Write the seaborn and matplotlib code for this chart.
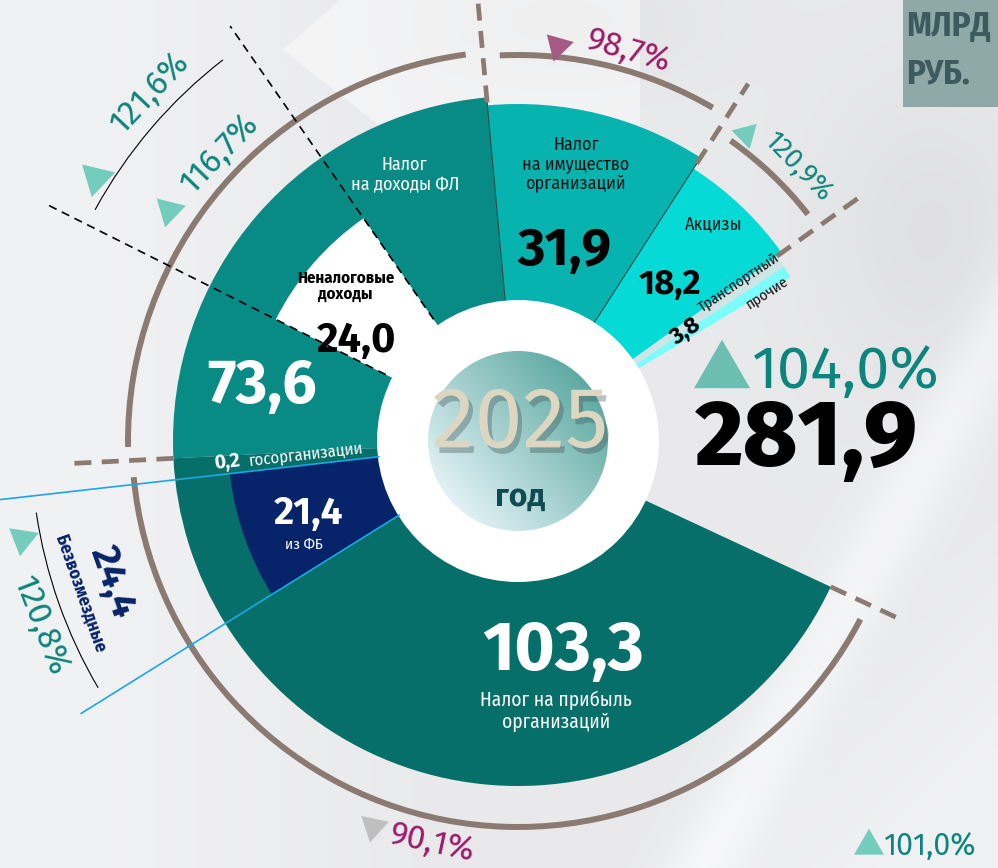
import numpy as np
import matplotlib
matplotlib.use("Agg")
import matplotlib.pyplot as plt
import matplotlib.colors as mcolors
import matplotlib.patheffects as pe
from matplotlib.patches import Arc, Circle, Rectangle, Polygon
import seaborn as sns

# ---- data: доходы бюджета 2025, млрд руб. ----
ring_labels = ["прочие", "Транспортный", "Акцизы", "Налог на имущество организаций",
               "Налог на доходы ФЛ", "Безвозмездные", "Налог на прибыль организаций"]
ring_values = [1.9, 1.9, 18.2, 31.9, 73.6, 24.4, 103.3]
ring_colors = ["#7dfcfc", "#cfe4e4", "#05dad6", "#07b3ae", "#088a85", "#066f69", "#066f69"]
ring_radius = [318, 318, 324, 337, 345, 345, 345]

transport_total = 3.8
nontax_value = 24.0      # Неналоговые доходы
fb_value = 21.4          # из ФБ
gov_value = 0.2          # госорганизации
total_value = 281.9

# темпы роста, %
growth_total = 104.0
growth_profit = 90.1
growth_ndfl = 116.7
growth_nontax = 121.6
growth_property = 98.7
growth_excise = 120.9
growth_free = 120.8
growth_other = 101.0

W, H = 998, 868
CX, CY = 518, H - 441
HOLE = 140
GAP_DEG = 56

TEAL_TXT = "#0b857d"
MAGENTA = "#9c1b66"
UP_TRI = "#74ccbd"
BROWN = "#8b7a72"
NAVY = "#07246a"


def fmt(v, pct=False):
    s = f"{v:.1f}".replace(".", ",")
    return s + "%" if pct else s


sns.set_theme(style="white")
COND = ["Fira Sans Condensed", "PT Sans Narrow", "Roboto Condensed", "Open Sans", "DejaVu Sans"]
SANS = ["Fira Sans", "Open Sans", "DejaVu Sans"]
LIGHT = ["Fira Sans Light", "Fira Sans", "Open Sans", "DejaVu Sans"]
plt.rcParams["font.family"] = SANS

fig = plt.figure(figsize=(W / 100, H / 100), dpi=100)
fig.patch.set_facecolor("#ebecee")
ax = fig.add_axes([0, 0, 1, 1])


def pol(theta, r):
    t = np.radians(theta)
    return CX + r * np.cos(t), CY + r * np.sin(t)


def Y(py):
    return H - py


# ---- soft background ----
yy, xx = np.mgrid[0:H:2, 0:W:2].astype(float)


def band(x0, y0, x1, y1, width):
    dx, dy = x1 - x0, y1 - y0
    d = np.abs(dy * (xx - x0) - dx * (yy - y0)) / np.hypot(dx, dy)
    return np.exp(-(d / width) ** 2)


lum = np.full(xx.shape, 0.918)
lum += 0.03 * np.clip((430 - xx) / 330, 0, 1)
lum -= 0.035 * np.exp(-(((xx - 930) / 110) ** 2 + ((yy - 230) / 150) ** 2))
lum -= 0.025 * np.exp(-(((xx - 560) / 140) ** 2 + ((yy - 20) / 60) ** 2))
lum += 0.045 * band(998, 330, 700, 868, 35)
lum += 0.03 * np.clip((xx + yy - 1500) / 250, 0, 1)
lum = np.clip(lum, 0, 1)
bg = np.dstack([lum - 0.004, lum - 0.002, lum + 0.006]).clip(0, 1)
ax.imshow(bg, extent=[0, W, 0, H], origin="upper", zorder=0, interpolation="bilinear")
ax.add_patch(Polygon([(283, Y(50)), (340, Y(0)), (640, Y(0)), (640, Y(330))], closed=True,
                     fc="white", ec="none", alpha=0.45, zorder=0.5))

# ---- outer ring ----
gap = sum(ring_values) * GAP_DEG / (360 - GAP_DEG)
wedges, _ = ax.pie(ring_values + [gap], colors=ring_colors + ["none"], startangle=31,
                   counterclock=True, radius=345, center=(CX, CY),
                   wedgeprops=dict(width=345 - HOLE, linewidth=0))
for w, r in zip(wedges, ring_radius):
    w.set_radius(r)
    w.set_width(r - HOLE)
    w.set_zorder(1)
wedges[-1].set_visible(False)

# ---- inner overlays: Неналоговые доходы and из ФБ ----
ndfl = ring_values[4]
lead = sum(ring_values[:4]) + (ndfl - nontax_value) / 2
mid = (ndfl - nontax_value) / 2 + ring_values[5] - fb_value
tail = ring_values[6] + gap
inner, _ = ax.pie([lead, nontax_value, mid, fb_value, tail],
                  colors=["none", "white", "none", NAVY, "none"], startangle=31,
                  counterclock=True, radius=290, center=(CX, CY),
                  wedgeprops=dict(width=290 - HOLE, linewidth=0))
inner[1].set_radius(271)
inner[1].set_width(271 - HOLE)
for k in (0, 2, 4):
    inner[k].set_visible(False)
for w in inner:
    w.set_zorder(2)

ax.axis("off")

# thin separators inside the ring
for k in (2, 3):
    a = wedges[k].theta2
    ax.plot(*zip(pol(a, HOLE), pol(a, ring_radius[k + 1])), color="#2c4a4a", lw=0.8, zorder=3)

# ---- centre ----
ax.add_patch(Circle((CX, CY), HOLE + 1, fc="white", ec="none", zorder=4))
n = 256
gx, gy = np.meshgrid(np.linspace(-1, 1, n), np.linspace(-1, 1, n))
t = np.clip(0.5 + 0.5 * (0.75 * gx + 0.65 * gy), 0, 1)[..., None]
c0 = np.array(mcolors.to_rgb("#e2f2f6"))
c1 = np.array(mcolors.to_rgb("#5ea9a2"))
im = ax.imshow(c0 + (c1 - c0) * t, extent=[CX - 90, CX + 90, CY - 90, CY + 90],
               origin="lower", zorder=5)
im.set_clip_path(Circle((CX, CY), 90, transform=ax.transData))
ax.set_xlim(0, W)
ax.set_ylim(0, H)
ax.set_aspect("equal")

ax.text(CX + 2, Y(424), "2025", ha="center", va="center", fontsize=62, color="#ddd6c1",
        family=LIGHT, zorder=7,
        path_effects=[pe.withSimplePatchShadow(offset=(3, -4), shadow_rgbFace="#3c4f50", alpha=0.35)])
ax.text(CX + 2, Y(497), "год", ha="center", va="center", fontsize=23, color="#0e4c52",
        weight="bold", family=SANS, zorder=7)

# ---- brown dashed separators ----
sep = [(wedges[1].theta2, 318, 418), (wedges[2].theta2, 330, 425), (wedges[3].theta2, 340, 440),
       (wedges[4].theta2, 345, 445), (wedges[6].theta2, 345, 420)]
for a, r0, r1 in sep:
    ax.plot(*zip(pol(a, r0), pol(a, r1)), color=BROWN, lw=3.4, ls=(0, (3.6, 2.2)),
            solid_capstyle="butt", zorder=3)

# ---- brown group arcs ----
arcs = [(368, wedges[2].theta1 + 2.5, wedges[2].theta2 - 2.5),
        (386, wedges[3].theta1 + 2.5, wedges[3].theta2 - 2.5),
        (390, wedges[4].theta1 + 2.5, wedges[4].theta2 - 2.0),
        (386, wedges[5].theta1 + 2.5, wedges[6].theta2 - 2.5)]
for r, a1, a2 in arcs:
    ax.add_patch(Arc((CX, CY), 2 * r, 2 * r, theta1=a1, theta2=a2, color=BROWN, lw=4.3, zorder=3))

# ---- black dashed lines around Неналоговые доходы ----
wn = inner[1]
for a, r1 in ((wn.theta1, 505), (wn.theta2, 525)):
    ax.plot(*zip(pol(a, HOLE + 8), pol(a, r1)), color="black", lw=1.2, ls=(0, (5, 3.5)), zorder=6)
ax.add_patch(Arc((CX, CY), 964, 964, theta1=wn.theta1 + 3, theta2=wn.theta2 - 2,
                 color="black", lw=0.8, zorder=3))

# ---- light blue lines around из ФБ ----
wf = inner[3]
for a, r1 in ((wf.theta1, 540), (wf.theta2, 515)):
    ax.plot(*zip(pol(a, HOLE), pol(a, r1)), color="#1aa7e6", lw=1.2, zorder=6)
ax.add_patch(Arc((CX, CY), 974, 974, theta1=wf.theta1 + 2, theta2=wf.theta2 - 1.5,
                 color="black", lw=0.8, zorder=3))


def lab(theta, r, s, **kw):
    x, y = pol(theta, r)
    kw.setdefault("ha", "center")
    kw.setdefault("va", "center")
    kw.setdefault("zorder", 8)
    return ax.text(x, y, s, **kw)


def tri(x, y, size, direction, color):
    R = size / np.sqrt(3)
    pts = [(x + R * np.cos(np.radians(direction + k)), y + R * np.sin(np.radians(direction + k)))
           for k in (0, 120, 240)]
    ax.add_patch(Polygon(pts, closed=True, fc=color, ec="none", zorder=8))


def growth(th_text, th_tri, r_text, r_tri, value, up, bottom=False, fs=24, tri_size=30,
           tcol=TEAL_TXT, tricol=UP_TRI):
    rot = th_text + 90 - 360 if bottom else th_text - 90
    lab(th_text, r_text, fmt(value, True), rotation=rot, fontsize=fs, color=tcol,
        family=SANS, rotation_mode="anchor")
    x, y = pol(th_tri, r_tri)
    tri(x, y, tri_size, rot + (90 if up else -90), tricol)


# ---- segment labels ----
w_exc, w_prop, w_ndfl, w_free, w_prof = wedges[2], wedges[3], wedges[4], wedges[5], wedges[6]
m_prop = (w_prop.theta1 + w_prop.theta2) / 2
m_exc = (w_exc.theta1 + w_exc.theta2) / 2
m_non = (wn.theta1 + wn.theta2) / 2
m_fb = (wf.theta1 + wf.theta2) / 2
m_ndfl = (w_ndfl.theta1 + w_ndfl.theta2) / 2
m_bottom = (w_free.theta1 + w_prof.theta2) / 2

lab(113, 290, "Налог\nна доходы ФЛ", color="white", fontsize=13, family=COND, linespacing=1.15)
lab(m_prop + 2, 283, "Налог\nна имущество\nорганизаций", color="#111111", fontsize=13,
    family=COND, linespacing=1.1)
lab(m_prop, 196, fmt(ring_values[3]), color="black", fontsize=38, weight="bold", family=SANS)
lab(m_exc + 1.5, 292, "Акцизы", color="#111111", fontsize=13, family=COND)
lab(m_exc - 0.5, 218, fmt(ring_values[2]), color="black", fontsize=25, weight="bold", family=SANS)

lab(33.3, 200, fmt(transport_total), rotation=34, color="black", fontsize=17, weight="bold",
    family=SANS)
lab(35.6, 272, "Транспортный", rotation=34, color="#111111", fontsize=11, family=COND)
lab(31.0, 290, "прочие", rotation=33, color="#111111", fontsize=11, family=COND)

lab(m_non - 1, 232, "Неналоговые\nдоходы", color="black", fontsize=12, weight="bold",
    family=COND, linespacing=1.0)
lab(m_non + 9, 190, fmt(nontax_value), color="black", fontsize=30, weight="bold", family=SANS)
lab(168, 262, fmt(ndfl), color="white", fontsize=44, weight="bold", family=SANS)

lab(m_fb, 222, fmt(fb_value), color="white", fontsize=28, weight="bold", family=SANS)
lab(206, 238, "из ФБ", color="white", fontsize=11, family=COND)

# 0,2 госорганизации along the blue line
rot_g = wf.theta1 - 180
x0, y0 = pol(wf.theta1, 305)
d = np.array([np.cos(np.radians(rot_g)), np.sin(np.radians(rot_g))])
ax.text(x0, y0 + 2, fmt(gov_value), rotation=rot_g, rotation_mode="anchor", ha="left",
        va="bottom", color="white", fontsize=14, weight="bold", family=SANS, zorder=8)
ax.text(x0 + 35 * d[0], y0 + 2 + 35 * d[1], "госорганизации", rotation=rot_g,
        rotation_mode="anchor", ha="left", va="bottom", color="white", fontsize=12,
        family=COND, zorder=8)

lab(282, 215, fmt(ring_values[6]), color="white", fontsize=50, weight="bold", family=SANS)
lab(278, 273, "Налог на прибыль\nорганизаций", color="white", fontsize=14, family=COND,
    linespacing=1.15)

# Безвозмездные
rot_b = m_fb + 90 - 360
lab(m_fb, 430, fmt(ring_values[5]), rotation=rot_b, color=NAVY, fontsize=28, weight="bold",
    family=SANS)
lab(m_fb, 463, "Безвозмездные", rotation=rot_b, color=NAVY, fontsize=13, weight="bold",
    family=COND)

# ---- growth notes ----
growth(m_exc - 2, m_exc + 7, 392, 382, growth_excise, True, fs=20, tri_size=26)
growth(m_prop - 2, m_prop + 8, 405, 397, growth_property, False, fs=24, tri_size=28,
       tcol=MAGENTA, tricol="#a45a82")
growth(m_ndfl - 3, m_ndfl + 7.5, 415, 418, growth_ndfl, True, fs=24, tri_size=30)
growth(m_non - 2.5, m_non + 9, 507, 497, growth_nontax, True, fs=24, tri_size=34)
growth(m_fb + 2, m_fb - 8, 512, 505, growth_free, True, bottom=True, fs=24, tri_size=30)
growth(m_bottom - 1, m_bottom - 9.5, 411, 412, growth_profit, False, bottom=True, fs=24,
       tri_size=28, tcol=MAGENTA, tricol="#bfbfbf")

# ---- total ----
tri(722, Y(372), 56, 90, "#6cbfb0")
ax.text(752, Y(372), fmt(growth_total, True), ha="left", va="center", fontsize=43,
        color=TEAL_TXT, family=SANS, zorder=8)
ax.text(806, Y(440), fmt(total_value), ha="center", va="center", fontsize=67,
        color="black", weight="heavy", family=SANS, zorder=8)

tri(869, Y(846), 30, 90, UP_TRI)
ax.text(884, Y(846), fmt(growth_other, True), ha="left", va="center", fontsize=22,
        color=TEAL_TXT, family=SANS, zorder=8)

# ---- units box ----
ax.add_patch(Rectangle((903, Y(107)), 100, 107, fc="#8ea9a8", ec="none", zorder=7))
ax.text(906, Y(27), "МЛРД", ha="left", va="center", fontsize=25, weight="bold",
        color="#3d5b5e", family=COND, zorder=8)
ax.text(906, Y(74), "РУБ.", ha="left", va="center", fontsize=25, weight="bold",
        color="#3d5b5e", family=COND, zorder=8)

fig.savefig("out.png", dpi=100, facecolor=fig.get_facecolor())
